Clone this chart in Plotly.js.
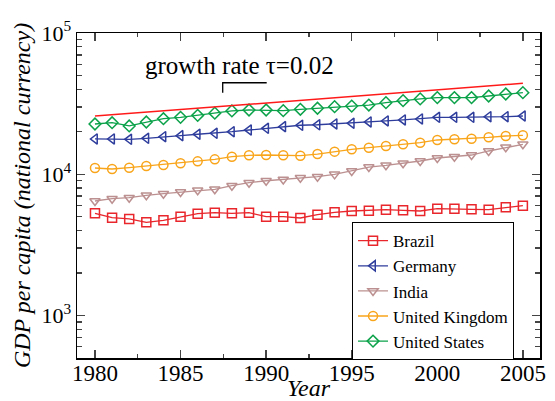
<!DOCTYPE html>
<html>
<head>
<meta charset="utf-8">
<script src="https://cdn.plot.ly/plotly-3.0.1.min.js"></script>
<style>html,body{margin:0;padding:0;background:#fff;}#chart{width:555px;height:401px;}</style>
</head>
<body>
<div id="chart"></div>
<script>
const years = [1980,1981,1982,1983,1984,1985,1986,1987,1988,1989,1990,1991,1992,1993,1994,1995,1996,1997,1998,1999,2000,2001,2002,2003,2004,2005];
const brazil = [5290,4926,4823,4567,4720,5007,5256,5342,5290,5342,5007,5007,4900,5171,5372,5494,5521,5610,5550,5494,5703,5703,5641,5610,5828,5995];
const germany = [17770,17770,17680,17970,18450,18760,19190,19500,20010,20570,21140,21720,22220,22400,22700,22960,23460,23850,24230,24620,25290,25290,25290,25560,25560,25840];
const india = [6465,6715,6825,7095,7285,7485,7697,7823,8300,8710,8995,9175,9450,9610,9980,10540,11250,11570,11950,12410,13030,13310,13680,14610,15520,16290];
const uk = [11070,10890,11130,11440,11630,11950,12340,12750,13310,13610,13680,13610,13530,13900,14450,15020,15420,15850,16290,16730,17480,17670,17850,18260,18660,18870];
const us = [22690,23170,21970,23440,24730,25290,26120,27080,28070,28510,28510,28180,28830,29310,30090,30390,30900,32120,33200,34130,34880,34880,34880,35810,36980,37790];
const growthYears = [1980, 2005];
const growthValues = [25800, 44000];
const seriesNames = ['Brazil','Germany','India','United Kingdom','United States'];
const xTickVals = [1980,1985,1990,1995,2000,2005];
const yTickVals = [1000,10000,100000];
const yTickText = ['10<sup>3</sup>','10<sup>4</sup>','10<sup>5</sup>'];

const colors = ['#e8262b','#2e3d9c','#bc9090','#f9a51b','#0ba24a'];
const symbols = ['square-open','triangle-left-open','triangle-down-open','circle-open','diamond-open'];
const values = [brazil, germany, india, uk, us];

const traces = values.map((v,i)=>({
  x: years, y: v, name: seriesNames[i], type:'scatter', mode:'lines+markers',
  line:{color:colors[i], width:1.3},
  marker:{symbol:symbols[i], size:9, color:colors[i], line:{width:1.5, color:colors[i]}}
}));
traces.push({x: growthYears, y: growthValues, type:'scatter', mode:'lines', showlegend:false,
  line:{color:'#ff1a1a', width:1.5}});

const minorVals = [];
for (let d=100; d<=10000; d*=10) for (let m=2; m<=9; m++) minorVals.push(m*d);

const fontFam = "'Liberation Serif', 'DejaVu Serif', serif";
const layout = {
  width:555, height:401,
  margin:{l:77, r:15, t:33, b:43},
  paper_bgcolor:'#fff', plot_bgcolor:'#fff',
  font:{family:fontFam, color:'#000', size:20},
  showlegend:true,
  legend:{x:0.594, y:0.418, xanchor:'left', yanchor:'top', bgcolor:'#fff', bordercolor:'#000', borderwidth:1,
    font:{family:fontFam, size:17}, tracegroupgap:0, itemwidth:30},
  xaxis:{range:[1978.95,2006], tickvals:xTickVals, ticks:'inside', ticklen:8, tickwidth:1.3,
    showline:true, linecolor:'#000', linewidth:1.5, mirror:'ticks', showgrid:false, zeroline:false,
    tickfont:{family:fontFam, size:23}, ticklabelposition:'outside', ticklabelstandoff:-6,
    minor:{tickvals:[1982.5,1987.5,1992.5,1997.5,2002.5], ticks:'inside', ticklen:4, tickwidth:1.3, showgrid:false},
    title:{text:'<i>Year</i>', font:{family:fontFam, size:24}, standoff:3}},
  yaxis:{type:'log', range:[Math.log10(500),5], tickvals:yTickVals, ticktext:yTickText, ticks:'inside', ticklen:8, tickwidth:1.3,
    showline:true, linecolor:'#000', linewidth:1.5, mirror:'ticks', showgrid:false, zeroline:false,
    tickfont:{family:fontFam, size:22},
    minor:{tickvals:minorVals, ticks:'inside', ticklen:5, tickwidth:1.3, showgrid:false},
    title:{text:'<i>GDP per capita (national currency)</i>', font:{family:fontFam, size:24}, standoff:4}},
  annotations:[{xref:'paper', yref:'paper', x:0.352, y:0.9015, xanchor:'center', yanchor:'middle',
    text:'growth rate τ=0.02', showarrow:false, font:{family:fontFam, size:25}}],
  shapes:[{type:'path', xref:'paper', yref:'paper', path:'M0.3147,0.816 L0.3147,0.847 L0.4097,0.847', line:{color:'#000', width:1.3}}]
};
Plotly.newPlot('chart', traces, layout, {displayModeBar:false, staticPlot:true});
</script>
</body>
</html>
